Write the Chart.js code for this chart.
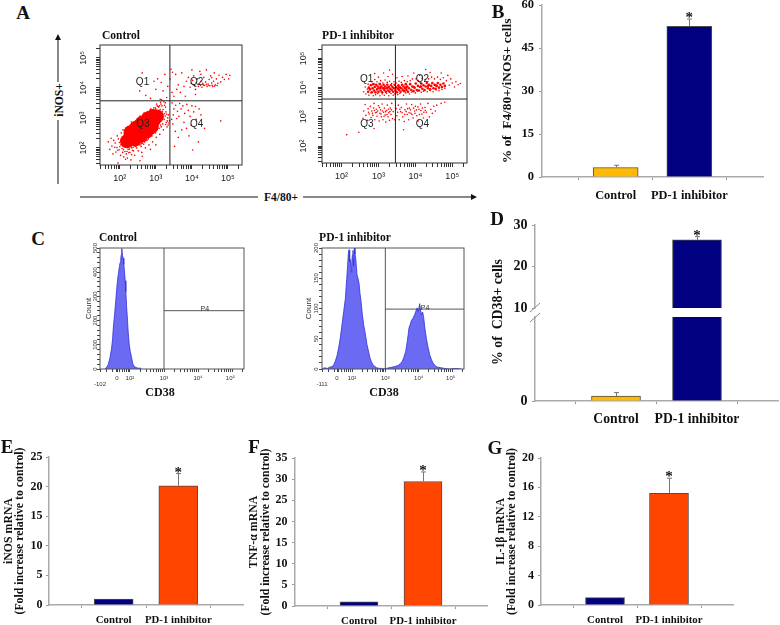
<!DOCTYPE html>
<html>
<head>
<meta charset="utf-8">
<script src="https://cdn.jsdelivr.net/npm/chart.js@4"></script>
<style>
body { margin: 0; background: #fff; }
#page { position: relative; width: 780px; height: 625px; overflow: hidden; background: #fff; }
canvas { position: absolute; }
svg { position: absolute; left: 0; top: 0; }
.note { position: absolute; white-space: pre; color: #111; font-family: "Liberation Serif"; font-weight: bold; transform: translate(-50%, -50%); }
</style>
</head>
<body>
<div id="page"></div>
<script>
const categories = ['Control', 'PD-1 inhibitor'];

const bValues = [3.3, 52.6];
const bErrors = [0.8, 2.5];
const dValues = [0.6, 26.4];
const dErrors = [0.4, 0.8];
const eValues = [1.0, 20.15];
const eErrors = [0, 2.05];
const fValues = [1.0, 29.45];
const fErrors = [0, 2.25];
const gValues = [1.0, 15.2];
const gErrors = [0, 2.05];

// flow plots, values are log10 of the fluorescence
const ctrlCore = [[2.2,2.22],[2.28,2.33],[2.4,2.42],[2.52,2.56],[2.66,2.68],[2.8,2.8],[2.94,2.92],[3.03,3.05],[2.42,2.28],[2.58,2.4],[2.74,2.55],[2.88,2.7],[2.3,2.52],[2.46,2.68],[2.62,2.84],[2.78,2.98],[2.92,3.06]];
const ctrlQ3 = [[1.72,1.95],[1.68,2.2],[1.81,1.8],[1.78,2.06],[1.83,2.25],[1.89,1.86],[1.92,2.01],[1.87,2.16],[1.93,2.4],[2.02,1.75],[1.98,1.94],[2.03,2.1],[1.96,2.3],[2.04,2.5],[2.11,1.7],[2.08,1.85],[2.13,2.05],[2.07,2.2],[2.12,2.46],[2.09,2.6],[2.21,1.66],[2.18,1.8],[2.23,1.95],[2.17,2.56],[2.22,2.7],[2.31,1.6],[2.28,1.85],[2.33,2.0],[2.29,2.76],[2.34,2.8],[2.41,1.75],[2.38,1.9],[2.43,2.05],[2.39,2.76],[2.44,2.9],[2.51,1.9],[2.49,2.1],[2.53,2.14],[2.48,2.95],[2.54,3.0],[2.61,1.85],[2.59,2.05],[2.63,2.16],[2.58,3.02],[2.64,3.08],[2.71,2.0],[2.69,2.2],[2.73,2.25],[2.68,3.11],[2.74,3.16],[2.81,2.1],[2.79,2.3],[2.83,2.36],[2.78,3.18],[2.84,3.26],[2.91,2.2],[2.89,2.4],[2.93,2.48],[2.88,3.25],[2.94,3.33],[3.01,2.35],[2.99,2.5],[3.03,2.62],[2.98,3.34],[3.04,3.4],[3.11,2.45],[3.09,2.65],[3.13,2.76],[3.08,3.36],[3.14,3.46],[3.21,2.6],[3.19,2.8],[3.23,2.95],[3.18,3.15],[3.17,3.4],[3.22,3.54],[3.31,2.7],[3.29,2.85],[3.33,3.0],[3.28,3.2],[3.26,3.5],[3.36,2.83],[3.38,2.9],[3.35,3.1],[3.12,3.28],[3.2,3.28],[3.27,3.36],[1.95,1.5],[2.56,1.57],[2.33,1.77],[3.0,2.1],[2.85,1.95],[2.16,1.62],[1.76,2.32],[2.62,1.72],[1.86,2.02],[1.94,1.92],[2.0,2.04],[2.06,1.98],[1.99,2.18],[2.05,2.3],[2.1,1.94],[2.14,1.88],[2.16,2.12],[2.11,2.34],[2.15,2.4],[2.2,1.88],[2.25,1.84],[2.27,1.96],[2.24,2.6],[2.19,2.66],[2.35,1.92],[2.37,2.02],[2.36,2.7],[2.32,2.86],[2.47,2.0],[2.45,2.06],[2.42,2.86],[2.52,2.96],[2.56,2.1],[2.6,2.14],[2.56,3.06],[2.66,2.12],[2.7,2.24],[2.67,3.16],[2.76,2.26],[2.8,2.34],[2.76,3.2],[2.86,2.4],[2.9,2.5],[2.86,3.3],[2.96,2.56],[3.0,2.62],[3.06,2.72],[3.1,2.84],[3.14,2.96],[3.16,3.08],[3.18,3.22],[3.1,3.4],[3.02,3.46],[3.0,3.3],[3.06,3.38],[3.13,3.52],[3.16,3.6],[3.24,3.42],[3.26,3.06],[3.3,3.12],[3.24,3.14],[3.32,2.9],[3.27,2.78],[3.34,2.76],[3.15,2.7]];
const ctrlQ4 = [[3.45,3.5],[3.5,3.3],[3.48,3.1],[3.55,3.42],[3.6,3.22],[3.58,2.98],[3.66,3.48],[3.7,3.3],[3.64,3.05],[3.75,3.4],[3.8,3.15],[3.78,2.85],[3.86,3.45],[3.9,3.25],[3.95,3.05],[3.85,2.65],[4.0,3.4],[4.05,3.2],[4.1,3.38],[4.12,2.95],[4.2,3.3],[4.25,3.1],[4.18,2.2],[3.92,2.4],[3.62,2.35],[3.52,2.05],[4.02,1.93],[4.8,2.9],[4.35,2.65],[3.47,2.8],[3.72,2.6],[3.98,2.75],[3.44,2.95],[3.54,2.55]];
const ctrlQ2 = [[3.42,4.62],[3.39,4.3],[3.45,3.85],[3.5,3.72],[3.58,3.95],[3.62,4.1],[3.68,3.85],[3.72,4.5],[3.78,4.05],[3.82,3.72],[3.85,4.22],[3.9,4.35],[3.95,4.02],[3.98,4.15],[4.02,4.25],[4.05,4.4],[4.08,4.08],[4.1,3.95],[4.12,4.18],[4.15,4.3],[4.18,4.05],[4.2,4.12],[4.22,4.55],[4.25,4.22],[4.28,4.02],[4.3,4.15],[4.33,4.35],[4.35,4.08],[4.38,4.2],[4.4,4.6],[4.42,4.05],[4.45,4.13],[4.48,4.28],[4.5,4.07],[4.52,4.4],[4.55,4.16],[4.58,4.05],[4.6,4.22],[4.62,4.5],[4.65,4.1],[4.68,4.3],[4.72,4.15],[4.75,4.42],[4.8,4.2],[4.85,4.35],[4.9,4.28],[4.95,4.45],[5.02,4.3],[5.05,4.42],[4.0,4.6],[4.25,4.45],[4.55,4.34],[4.1,3.78],[3.55,4.45],[3.46,4.52],[4.04,4.1],[4.16,4.12],[4.24,4.08],[4.32,4.1],[4.4,4.12],[4.47,4.08],[4.56,4.09],[4.63,4.06],[4.7,4.08]];
const ctrlQ1 = [[2.62,4.5],[2.72,3.75],[2.85,3.65],[3.0,3.95],[3.05,4.3],[3.12,3.62],[3.15,4.18],[3.2,3.9],[3.25,4.45],[3.3,3.68],[3.33,4.05],[2.55,3.9],[2.95,4.22]];
const pd1Core = [[2.72,3.86],[2.74,4.0],[2.77,3.94],[2.8,4.08],[2.82,3.84],[2.84,3.98],[2.86,4.12],[2.88,3.9],[2.9,4.02],[2.92,3.84],[2.94,4.1],[2.96,3.94],[2.98,4.04],[3.0,3.86],[3.02,3.98],[3.04,4.12],[3.06,3.9],[3.08,4.04],[3.1,3.84],[3.12,3.98],[3.14,4.1],[3.16,3.92],[3.18,4.04],[3.2,3.86],[3.22,3.98],[3.24,4.1],[3.26,3.9],[3.28,4.02],[3.3,3.86],[3.32,3.96],[3.34,4.08],[3.36,3.92],[3.38,4.02],[3.4,3.86],[3.42,3.98],[3.44,4.1],[3.46,3.9],[3.48,4.02],[3.5,3.84],[3.52,3.96],[3.54,4.08],[3.56,3.92],[3.58,4.02],[3.6,3.86],[3.62,3.98],[3.64,4.1],[3.66,3.92],[3.68,4.04],[3.7,3.88],[3.72,3.98],[3.74,4.12],[3.76,3.92],[3.78,4.04],[3.8,3.86],[3.83,3.98],[3.86,4.12],[3.89,3.92],[3.92,4.04],[3.95,3.88],[3.98,4.0],[4.01,4.14],[4.04,3.92],[4.07,4.06],[4.1,3.9],[4.13,4.02],[4.16,4.14],[4.19,3.96],[4.22,4.08],[4.25,3.92],[4.28,4.04],[4.31,4.16],[4.34,3.98],[4.37,4.1],[4.4,3.94],[4.43,4.06],[4.46,4.16],[4.49,3.98],[4.52,4.1],[4.55,3.96],[4.58,4.06],[4.61,4.16],[4.64,4.0],[4.68,4.1],[4.72,4.02],[4.76,4.14],[4.8,4.06],[3.05,4.0],[3.15,3.98],[3.25,4.0],[3.55,4.0],[3.75,4.0],[3.95,4.02],[4.15,4.04],[4.35,4.06],[4.55,4.08]];
const pd1Band = [[2.6,3.86],[2.64,4.02],[2.66,3.78],[2.7,3.95],[2.72,4.12],[2.74,3.74],[2.78,4.1],[2.8,3.82],[2.82,4.2],[2.86,3.72],[2.88,4.12],[2.9,4.28],[2.92,3.76],[2.96,4.2],[2.98,3.8],[3.0,4.36],[3.02,4.14],[3.04,3.72],[3.06,4.24],[3.1,3.78],[3.12,4.16],[3.14,4.5],[3.16,3.74],[3.18,4.26],[3.22,3.8],[3.24,4.18],[3.26,4.38],[3.28,3.72],[3.3,4.22],[3.34,3.8],[3.36,4.14],[3.38,4.46],[3.4,3.74],[3.42,4.2],[3.44,3.78],[3.48,4.16],[3.5,4.34],[3.52,3.76],[3.56,4.22],[3.58,3.8],[3.62,4.18],[3.64,4.38],[3.68,3.74],[3.7,4.24],[3.74,3.82],[3.78,4.2],[3.8,4.4],[3.84,3.78],[3.86,4.24],[3.9,3.84],[3.92,4.3],[3.96,4.5],[4.0,3.82],[4.02,4.3],[4.06,3.88],[4.08,4.24],[4.12,4.42],[4.16,3.84],[4.18,4.32],[4.22,3.88],[4.26,4.28],[4.28,4.62],[4.32,3.86],[4.36,4.3],[4.4,3.9],[4.44,4.36],[4.48,3.86],[4.52,4.3],[4.56,3.92],[4.6,4.36],[4.64,3.9],[4.68,4.28],[4.72,3.94],[4.76,4.34],[4.8,3.98],[4.84,4.24],[4.88,4.42],[4.92,4.08],[4.96,4.3],[5.0,4.16],[5.06,4.02],[5.1,4.2],[5.16,4.1],[5.22,4.14],[4.7,4.5],[4.4,4.52],[3.3,4.6],[2.9,4.48]];
const pd1Lower = [[2.58,2.95],[2.6,3.2],[2.64,3.42],[2.66,3.05],[2.7,2.88],[2.72,3.28],[2.75,3.1],[2.78,3.36],[2.8,2.98],[2.82,3.2],[2.85,3.05],[2.88,3.46],[2.9,2.9],[2.92,3.14],[2.94,3.26],[2.96,3.02],[3.0,3.38],[3.02,2.86],[3.04,3.12],[3.06,3.24],[3.08,3.0],[3.1,3.44],[3.12,2.9],[3.14,3.16],[3.16,3.3],[3.18,3.06],[3.2,2.82],[3.22,3.22],[3.24,3.4],[3.26,3.0],[3.28,3.14],[3.3,2.88],[3.32,3.3],[3.34,3.08],[3.36,3.46],[3.38,2.94],[3.4,3.18],[3.44,2.9],[3.48,3.28],[3.5,3.04],[3.54,3.4],[3.56,2.9],[3.6,3.18],[3.62,3.32],[3.66,3.0],[3.7,2.84],[3.72,3.24],[3.76,3.44],[3.78,3.08],[3.82,2.9],[3.84,3.3],[3.88,3.12],[3.9,3.42],[3.94,2.96],[3.98,3.2],[4.0,3.36],[4.04,3.04],[4.08,2.86],[4.1,3.26],[4.14,3.44],[4.18,3.1],[4.22,2.96],[4.26,3.32],[4.3,3.16],[4.34,3.46],[4.38,3.0],[4.42,3.26],[4.46,3.12],[4.5,3.36],[4.54,3.2],[4.58,3.4],[4.7,3.46],[4.8,3.5],[2.14,2.39],[2.47,2.47],[2.88,2.6],[3.68,2.56],[2.73,3.16],[2.84,3.12],[2.87,3.3],[2.98,3.2],[3.03,3.32],[3.07,3.1],[3.11,3.2],[2.89,3.22],[2.95,3.16],[3.15,3.02],[3.19,3.18],[3.23,3.08],[3.27,3.26],[3.31,3.18],[3.35,3.24],[3.71,3.08],[3.75,3.18],[3.79,3.28],[3.83,3.14],[3.87,3.24],[3.91,3.08],[3.95,3.3],[3.99,3.12],[4.03,3.24],[4.07,3.34],[4.11,3.08],[4.15,3.22],[4.19,3.3],[4.23,3.16],[4.27,3.22],[3.64,3.14],[3.58,3.26],[3.52,3.16]];
// histogram outlines, position in decades and event count per bin
const histCtrlX = [1.26,1.31,1.36,1.41,1.46,1.49,1.51,1.55,1.58,1.61,1.63,1.66,1.69,1.71,1.73,1.75,1.76,1.78,1.8,1.82,1.84,1.86,1.88,1.9,1.93,1.95,1.98,2.01,2.05,2.08,2.12,2.18,2.25,2.3,2.34];
const histCtrlY = [0,6,18,44,86,125,168,228,278,330,360,395,423,440,458,475,498,470,458,432,401,365,320,262,196,150,100,72,45,24,11,6,3,4,0];
const histPd1X = [1.1,1.18,1.26,1.33,1.41,1.46,1.5,1.55,1.6,1.65,1.7,1.75,1.8,1.84,1.87,1.89,1.91,1.93,1.95,1.97,1.99,2.01,2.03,2.05,2.07,2.09,2.11,2.13,2.15,2.18,2.21,2.24,2.27,2.31,2.35,2.4,2.45,2.5,2.54,2.59,2.64,2.69,2.74,2.82,2.89,2.96,3.03,3.11,3.19,3.29,3.39,3.45,3.51,3.56,3.61,3.66,3.71,3.75,3.78,3.83,3.88,3.92,3.95,3.99,4.03,4.06,4.09,4.12,4.15,4.19,4.23,4.28,4.33,4.38,4.43,4.5,4.57,4.67,4.77,4.92,5.12,5.27];
const histPd1Y = [0,2,1,3,4,8,13,22,35,52,73,95,116,148,173,190,197,178,181,160,173,188,196,170,200,190,184,170,156,150,142,125,112,90,73,58,40,28,18,11,6,4,2,1,1,0,1,2,3,4,6,9,13,20,29,46,68,74,80,84,90,96,101,95,108,96,90,94,85,66,51,36,24,16,10,5,3,2,1,0,1,0];

const scatterNotes1 = [['Q1', 2.63, 4.18], ['Q2', 4.13, 4.18], ['Q3', 2.64, 2.8], ['Q4', 4.13, 2.8]];
const scatterNotes2 = [['Q1', 2.68, 4.29], ['Q2', 4.19, 4.29], ['Q3', 2.69, 2.76], ['Q4', 4.19, 2.76]];
const superLabels = { 2: '10²', 3: '10³', 4: '10⁴', 5: '10⁵' };

const page = document.getElementById('page');
const serif = 'Liberation Serif';
const sans = 'Liberation Sans';

function addNote(text, x, y, size, rotate) {
    const el = document.createElement('div');
    el.className = 'note';
    el.textContent = text;
    el.style.left = x + 'px';
    el.style.top = y + 'px';
    el.style.fontSize = size + 'px';
    if (rotate) el.style.transform = 'translate(-50%, -50%) rotate(-90deg)';
    page.appendChild(el);
}

function addCanvas(left, top, width, height) {
    const c = document.createElement('canvas');
    c.width = width;
    c.height = height;
    c.style.left = left + 'px';
    c.style.top = top + 'px';
    page.appendChild(c);
    return c.getContext('2d');
}

function toPoints(list) {
    return list.map(p => ({ x: p[0], y: p[1] }));
}

function zipPoints(xs, ys) {
    return xs.map((x, i) => ({ x: x, y: ys[i] }));
}

// fixed margins so the plot area lands where it should
function fixWidth(w) {
    return s => { s.width = w; s.paddingTop = 0; s.paddingBottom = 0; };
}

function fixHeight(h) {
    return s => { s.height = h; s.paddingLeft = 0; s.paddingRight = 0; };
}

// frame round the plot area, like the cytometer software draws it
function framePlugin(color) {
    return {
        id: 'frame',
        afterDatasetsDraw(chart) {
            const a = chart.chartArea, ctx = chart.ctx;
            ctx.save();
            ctx.strokeStyle = color;
            ctx.lineWidth = 1;
            ctx.strokeRect(a.left, a.top, a.right - a.left, a.bottom - a.top);
            ctx.restore();
        }
    };
}

function notesPlugin(notes, font, color) {
    return {
        id: 'notes',
        afterDatasetsDraw(chart) {
            const ctx = chart.ctx;
            ctx.save();
            ctx.font = font;
            ctx.fillStyle = color;
            ctx.textAlign = 'center';
            ctx.textBaseline = 'middle';
            notes.forEach(n => {
                ctx.fillText(n[0], chart.scales.x.getPixelForValue(n[1]), chart.scales.y.getPixelForValue(n[2]));
            });
            ctx.restore();
        }
    };
}

function errorPlugin(values, errors) {
    return {
        id: 'errors',
        afterDatasetsDraw(chart) {
            const ctx = chart.ctx, yScale = chart.scales.y, xScale = chart.scales.x;
            ctx.save();
            ctx.strokeStyle = '#777';
            ctx.lineWidth = 1;
            values.forEach((v, i) => {
                const topValue = v + errors[i];
                if (topValue > yScale.max || v < yScale.min || errors[i] === 0 && i === 0) return;
                const x = Math.round(xScale.getPixelForValue(i + 1)) + 0.5;
                const y0 = yScale.getPixelForValue(v), y1 = yScale.getPixelForValue(topValue);
                ctx.beginPath();
                ctx.moveTo(x, y0);
                ctx.lineTo(x, y1);
                ctx.moveTo(x - 2.5, y1);
                ctx.lineTo(x + 2.5, y1);
                ctx.stroke();
            });
            // significance star over the treated bar
            const last = values.length - 1;
            const top = values[last] + errors[last];
            if (top <= yScale.max) {
                ctx.fillStyle = '#111';
                ctx.font = 'bold 15px "Liberation Serif"';
                ctx.textAlign = 'center';
                ctx.textBaseline = 'alphabetic';
                ctx.fillText('*', xScale.getPixelForValue(last + 1), yScale.getPixelForValue(top) + 3);
            }
            ctx.restore();
        }
    };
}

function barPanel(o) {
    const xHeight = o.showX === false ? 0 : 24;
    // upper half of a broken axis still needs room under its last tick label
    const underPad = o.showX === false ? 10 : 0;
    const ctx = addCanvas(o.canvasLeft, o.canvasTop, o.right - o.canvasLeft + 2, o.bottom + xHeight + underPad - o.canvasTop);
    const yScale = {
        min: o.yMin || 0,
        max: o.yMax,
        afterFit: fixWidth(o.axisX - o.canvasLeft),
        grid: { drawOnChartArea: false, tickLength: 3, tickColor: '#999' },
        border: { color: '#aaa', width: 1.5 },
        ticks: { stepSize: o.step, color: '#111', padding: o.tickPad, font: { family: serif, weight: 'bold', size: o.tickSize } }
    };
    if (o.onlyZero) yScale.afterBuildTicks = a => { a.ticks = a.ticks.filter(t => t.value === 0); };
    if (o.yTitle) {
        yScale.title = {
            display: true,
            text: o.yTitle,
            color: '#111',
            padding: { top: o.titlePad, bottom: 0 },
            font: { family: serif, weight: 'bold', size: o.titleSize, lineHeight: o.titleLine + 'px' }
        };
    }
    return new Chart(ctx, {
        type: 'bar',
        data: {
            labels: [''].concat(categories, ['']),
            datasets: [{
                data: [null].concat(o.values, [null]),
                backgroundColor: ['#fff'].concat(o.colors, ['#fff']),
                borderColor: '#4d4d4d',
                borderWidth: 1,
                barThickness: o.barWidth
            }]
        },
        options: {
            responsive: false,
            animation: false,
            layout: { autoPadding: false, padding: { top: o.top - o.canvasTop, right: 2, bottom: underPad } },
            plugins: { legend: { display: false }, tooltip: { enabled: false } },
            scales: {
                x: {
                    display: o.showX !== false,
                    offset: false,
                    afterBuildTicks: a => { a.ticks = a.ticks.filter(t => t.value === 1 || t.value === 2); },
                    afterFit: fixHeight(xHeight),
                    grid: { drawOnChartArea: false, tickLength: 3, tickColor: '#999' },
                    border: { color: '#aaa', width: 1.5 },
                    ticks: { autoSkip: false, maxRotation: 0, color: '#111', padding: o.catPad, font: { family: serif, weight: 'bold', size: o.catSize } }
                },
                y: yScale
            }
        },
        plugins: [errorPlugin(o.values, o.errors)]
    });
}

function logTicks(min, max) {
    const out = [];
    for (let d = 1; d <= 5; d++) {
        for (let m = 1; m <= 9; m++) {
            const v = d + Math.log10(m);
            if (v > min && v < max) out.push({ value: v });
        }
    }
    return out;
}

function decadeLabel(value) {
    return superLabels[value] || '';
}

function scatterPanel(o) {
    const ctx = addCanvas(o.left - 30, o.top - 6, o.right - o.left + 38, o.bottom - o.top + 28);
    return new Chart(ctx, {
        type: 'scatter',
        data: {
            datasets: [
                { data: [{ x: o.gateX, y: o.yMin }, { x: o.gateX, y: o.yMax }], showLine: true, borderColor: '#222', borderWidth: 1, pointRadius: 0 },
                { data: [{ x: o.xMin, y: o.gateY }, { x: o.xMax, y: o.gateY }], showLine: true, borderColor: '#222', borderWidth: 1, pointRadius: 0 },
                { data: toPoints(o.sparse), backgroundColor: '#f00', borderWidth: 0, pointRadius: 0.8 },
                { data: toPoints(o.core), backgroundColor: '#f00', borderWidth: 0, pointRadius: o.coreRadius }
            ]
        },
        options: {
            responsive: false,
            animation: false,
            layout: { autoPadding: false, padding: { top: 6, right: 8 } },
            plugins: { legend: { display: false }, tooltip: { enabled: false } },
            scales: {
                x: {
                    min: o.xMin,
                    max: o.xMax,
                    afterBuildTicks: a => { a.ticks = logTicks(o.xMin, o.xMax); },
                    afterFit: fixHeight(22),
                    grid: { drawOnChartArea: false, tickLength: 4, tickColor: '#333' },
                    border: { display: false },
                    ticks: { autoSkip: false, maxRotation: 0, padding: 4, color: '#222', callback: decadeLabel, font: { family: sans, size: 9 } }
                },
                y: {
                    min: o.yMin,
                    max: o.yMax,
                    afterBuildTicks: a => { a.ticks = logTicks(o.yMin, o.yMax); },
                    afterFit: fixWidth(30),
                    grid: { drawOnChartArea: false, tickLength: 4, tickColor: '#333' },
                    border: { display: false },
                    ticks: { autoSkip: false, minRotation: 90, maxRotation: 90, crossAlign: 'center', padding: o.yPad, color: '#222', callback: decadeLabel, font: { family: sans, size: 9 } }
                }
            }
        },
        plugins: [framePlugin('#333'), notesPlugin(o.notes, '10px "Liberation Sans"', '#222')]
    });
}

function histPanel(o) {
    const ctx = addCanvas(o.left - 24, o.top - 6, o.right - o.left + 30, o.bottom - o.top + 24);
    return new Chart(ctx, {
        type: 'scatter',
        data: {
            datasets: [
                { data: [{ x: 3, y: 0 }, { x: 3, y: o.yMax }], showLine: true, borderColor: '#555', borderWidth: 1, pointRadius: 0 },
                { data: [{ x: 3, y: o.gateY }, { x: o.xMax, y: o.gateY }], showLine: true, borderColor: '#555', borderWidth: 1, pointRadius: 0 },
                { data: zipPoints(o.xs, o.ys), showLine: true, fill: 'origin', backgroundColor: '#6a6af2', borderColor: '#3030dd', borderWidth: 0.8, pointRadius: 0 }
            ]
        },
        options: {
            responsive: false,
            animation: false,
            layout: { autoPadding: false, padding: { top: 6, right: 6 } },
            plugins: { legend: { display: false }, tooltip: { enabled: false } },
            scales: {
                x: {
                    min: o.xMin,
                    max: o.xMax,
                    afterBuildTicks: a => {
                        const minor = logTicks(o.xMin, o.xMax).filter(t => o.tickVals.indexOf(t.value) < 0);
                        a.ticks = o.tickVals.map(v => ({ value: v })).concat(minor);
                    },
                    afterFit: fixHeight(18),
                    grid: { drawOnChartArea: false, tickLength: 3, tickColor: '#444' },
                    border: { display: false },
                    ticks: {
                        autoSkip: false, maxRotation: 0, padding: 3, color: '#333',
                        callback: v => {
                            const i = o.tickVals.indexOf(v);
                            return i >= 0 ? o.tickLabels[i] : '';
                        },
                        font: { family: sans, size: 6, lineHeight: '6px' }
                    }
                },
                y: {
                    min: 0,
                    max: o.yMax,
                    afterFit: fixWidth(24),
                    grid: { drawOnChartArea: false, tickLength: 3, tickColor: '#444' },
                    border: { display: false },
                    title: { display: true, text: 'Count', color: '#333', padding: { top: o.countPad, bottom: 0 }, font: { family: sans, size: 8, lineHeight: '8px' } },
                    ticks: { stepSize: o.step, autoSkip: false, minRotation: 90, maxRotation: 90, crossAlign: 'center', padding: o.yPad, color: '#333', callback: v => v % o.labelEvery === 0 ? v : '', font: { family: sans, size: 6 } }
                }
            }
        },
        plugins: [framePlugin('#555'), notesPlugin([['P4', o.p4x, o.gateY + o.yMax * 0.012]], '7px "Liberation Sans"', '#333')]
    });
}

// Panel A
scatterPanel({
    left: 100, right: 242, top: 45, bottom: 165,
    xMin: 1.45, xMax: 5.39, yMin: 1.43, yMax: 5.43,
    gateX: 3.39, gateY: 3.57, yPad: 6,
    core: ctrlCore, coreRadius: 7,
    sparse: ctrlQ3.concat(ctrlQ4, ctrlQ2, ctrlQ1),
    notes: scatterNotes1
});
scatterPanel({
    left: 322, right: 467, top: 45, bottom: 163,
    xMin: 1.47, xMax: 5.4, yMin: 1.42, yMax: 5.46,
    gateX: 3.46, gateY: 3.61, yPad: 8,
    core: pd1Core, coreRadius: 1.3,
    sparse: pd1Band.concat(pd1Lower),
    notes: scatterNotes2
});

// Panel B
barPanel({
    canvasLeft: 495, canvasTop: 0, axisX: 542, top: 5, bottom: 177, right: 763,
    yMax: 60, step: 15, values: bValues, errors: bErrors, colors: ['#ffb900', '#000080'], barWidth: 45,
    tickSize: 12.5, tickPad: 5, catSize: 12.4, catPad: 8,
    yTitle: '% of  F4/80+/iNOS+ cells', titleSize: 13.4, titleLine: 14, titlePad: 6
});

// Panel C
histPanel({
    left: 100, right: 244, top: 248, bottom: 369,
    xMin: 1.12, xMax: 5.35, yMax: 500, step: 20, labelEvery: 100,
    xs: histCtrlX, ys: histCtrlY, gateY: 241, p4x: 4.2, yPad: -3, countPad: 8.5,
    tickVals: [1.12, 1.62, 2, 3, 4, 4.95], tickLabels: [['', '-102'], '0', '10²', '10³', '10⁴', '10⁵']
});
histPanel({
    left: 322, right: 464, top: 248, bottom: 369,
    xMin: 1.1, xMax: 5.36, yMax: 200, step: 10, labelEvery: 50,
    xs: histPd1X, ys: histPd1Y, gateY: 99, p4x: 4.19, yPad: -2, countPad: 7,
    tickVals: [1.1, 1.55, 2, 3, 4, 4.96], tickLabels: [['', '-111'], '0', '10²', '10³', '10⁴', '10⁵']
});

// Panel D, axis is broken so the two halves are separate charts
barPanel({
    canvasLeft: 505, canvasTop: 216, axisX: 535, top: 225, bottom: 308, right: 778, showX: false,
    yMin: 10, yMax: 30, step: 10, values: dValues, errors: dErrors, colors: ['#ffb900', '#000080'], barWidth: 49,
    tickSize: 14, tickPad: 4.5
});
barPanel({
    canvasLeft: 505, canvasTop: 312, axisX: 535, top: 317, bottom: 401, right: 778, onlyZero: true,
    yMin: 0, yMax: 10, step: 10, values: dValues, errors: dErrors, colors: ['#ffb900', '#000080'], barWidth: 49,
    tickSize: 14, tickPad: 4.5, catSize: 13.7, catPad: 7
});

// Panels E, F, G
const mrnaColors = ['#000080', '#ff4500'];
barPanel({
    canvasLeft: 0, canvasTop: 448, axisX: 49, top: 457, bottom: 605, right: 243,
    yMax: 25, step: 5, values: eValues, errors: eErrors, colors: mrnaColors, barWidth: 39,
    tickSize: 12, tickPad: 3.5, catSize: 10.8, catPad: 5.5,
    yTitle: ['iNOS mRNA', '(Fold increase relative to control)'], titleSize: 11.8, titleLine: 11, titlePad: 3.5
});
barPanel({
    canvasLeft: 244, canvasTop: 448, axisX: 295, top: 458, bottom: 606, right: 487,
    yMax: 35, step: 5, values: fValues, errors: fErrors, colors: mrnaColors, barWidth: 38,
    tickSize: 12, tickPad: 4.5, catSize: 10.8, catPad: 5.5,
    yTitle: ['TNF-α mRNA', '(Fold increase relative to control)'], titleSize: 11.8, titleLine: 12, titlePad: 4
});
barPanel({
    canvasLeft: 490, canvasTop: 448, axisX: 541, top: 458, bottom: 605, right: 733,
    yMax: 20, step: 4, values: gValues, errors: gErrors, colors: mrnaColors, barWidth: 39,
    tickSize: 12, tickPad: 4, catSize: 10.8, catPad: 5.5,
    yTitle: ['IL-1β mRNA', '(Fold increase relative to control)'], titleSize: 11.8, titleLine: 11.5, titlePad: 5
});

// text that does not belong to one axis
addNote('A', 23, 13, 19);
addNote('B', 498, 12, 19);
addNote('C', 38, 239, 19);
addNote('D', 497, 219, 19);
addNote('E', 7, 447, 19);
addNote('F', 254, 447, 19);
addNote('G', 495, 448, 19);
addNote('Control', 121, 35, 11.5);
addNote('PD-1 inhibitor', 358, 35, 11.6);
addNote('Control', 118, 237, 11.5);
addNote('PD-1 inhibitor', 355, 237, 11.6);
addNote('iNOS+', 59, 100, 11.5, true);
addNote('F4/80+', 281, 197, 11.5);
addNote('CD38', 160, 392, 12);
addNote('CD38', 384, 392, 12);
addNote('% of  CD38+ cells', 498, 312, 13.8, true);

// arrows and the axis break marks
page.insertAdjacentHTML('beforeend',
    '<svg width="780" height="625" fill="none" stroke="#111" stroke-width="1">' +
    '<path d="M58 38V82M58 120V184M80 197H258M303 197H472"/>' +
    '<path d="M58 34l-3 6h6zM477 197l-6 -3v6z" fill="#111" stroke="none"/>' +
    '<path d="M530 312L540 303M530 322L540 313" stroke="#888"/>' +
    '</svg>');
</script>
</body>
</html>
